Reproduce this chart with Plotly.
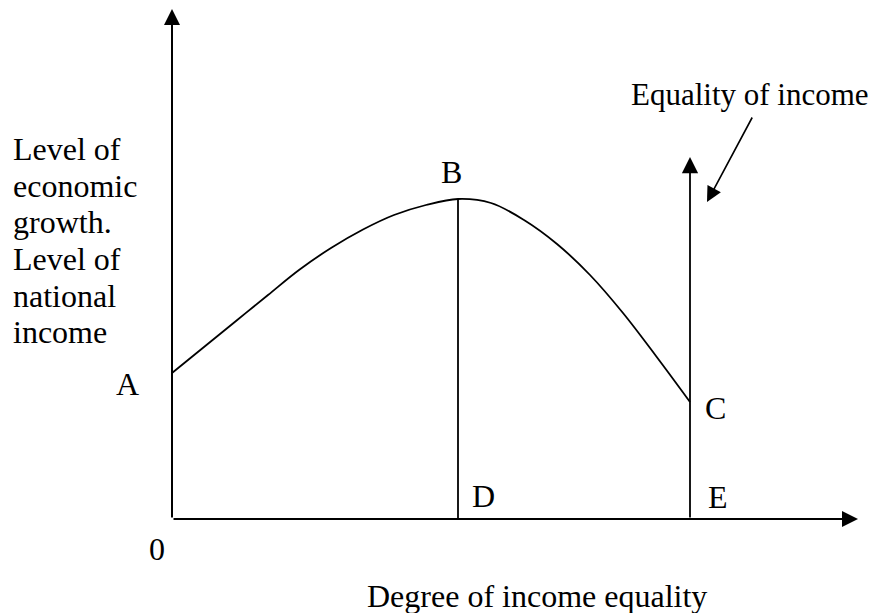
import plotly.graph_objects as go

# Diagram units: x measured right from the origin, y measured up from the x axis
curve_x = [0, 32, 64, 96, 127, 159, 191, 222, 254, 286, 319, 352, 385, 418, 451, 484, 518]
curve_y = [146, 172, 198, 224, 249, 271, 289.5, 304, 314, 320, 316, 299, 275, 244, 206, 163, 117]

peak_x, peak_y = 286, 320        # B, dropped to D
equal_x, equal_top = 518, 362    # E, vertical arrow through C
y_axis_top = 510
x_axis_end = 686

point_labels = ["A", "B", "C", "D", "E", "0"]
point_label_x = [-44.5, 279, 543.5, 311.5, 545.5, -15.5]
point_label_y = [135, 347, 111.5, 23, 22, -30]

y_title_lines = ["Level of", "economic", "growth.", "Level of", "national", "income"]
y_title_y = [369.6, 332.6, 296.6, 259.6, 222.6, 186.6]
x_title = "Degree of income equality"
pointer_text = "Equality of income"

FONT = dict(family="Liberation Serif, Times New Roman, serif", size=32, color="black")

fig = go.Figure()

# growth curve A-B-C
fig.add_trace(
    go.Scatter(
        x=curve_x,
        y=curve_y,
        mode="lines",
        line=dict(color="black", width=1.8, shape="spline", smoothing=1.0),
        hoverinfo="skip",
    )
)

# B down to D
fig.add_trace(
    go.Scatter(
        x=[peak_x, peak_x],
        y=[0, peak_y],
        mode="lines",
        line=dict(color="black", width=1.8),
        hoverinfo="skip",
    )
)


def arrow(x0, y0, x1, y1, width, size):
    fig.add_annotation(
        x=x1, y=y1, ax=x0, ay=y0,
        xref="x", yref="y", axref="x", ayref="y",
        text="", showarrow=True,
        arrowhead=2, arrowwidth=width, arrowsize=size,
        arrowcolor="black", standoff=0,
    )


# axes
arrow(0, 0, 0, y_axis_top, 2, 1.6)
arrow(0, 0, x_axis_end, 0, 2, 1.6)
# vertical line through C with arrow
arrow(equal_x, 0, equal_x, equal_top, 1.8, 1.8)
# pointer from the label
arrow(581, 403, 535, 317, 1.6, 1.9)

for t, x, y in zip(point_labels, point_label_x, point_label_y):
    fig.add_annotation(x=x, y=y, xref="x", yref="y", text=t, showarrow=False,
                       font=FONT, xanchor="center", yanchor="middle")

for t, y in zip(y_title_lines, y_title_y):
    fig.add_annotation(x=-161, y=y, xref="x", yref="y", text=t, showarrow=False,
                       font=FONT, xanchor="left", yanchor="middle")

fig.add_annotation(x=364.5, y=-77, xref="x", yref="y", text=x_title, showarrow=False,
                   font=FONT, xanchor="center", yanchor="middle")
fig.add_annotation(x=457, y=424.5, xref="x", yref="y", text=pointer_text, showarrow=False,
                   font=dict(FONT, size=31), xanchor="left", yanchor="middle")

# the page puts the figure 8px in from the top-left corner, so the ranges
# are shifted by that much to land marks where the reference has them
fig.update_layout(
    width=879,
    height=613,
    margin=dict(l=0, r=0, t=0, b=0),
    plot_bgcolor="white",
    paper_bgcolor="white",
    showlegend=False,
    xaxis=dict(range=[-164, 715], visible=False, fixedrange=True),
    yaxis=dict(range=[-102, 511], visible=False, fixedrange=True),
)

fig.write_html("out.html")
